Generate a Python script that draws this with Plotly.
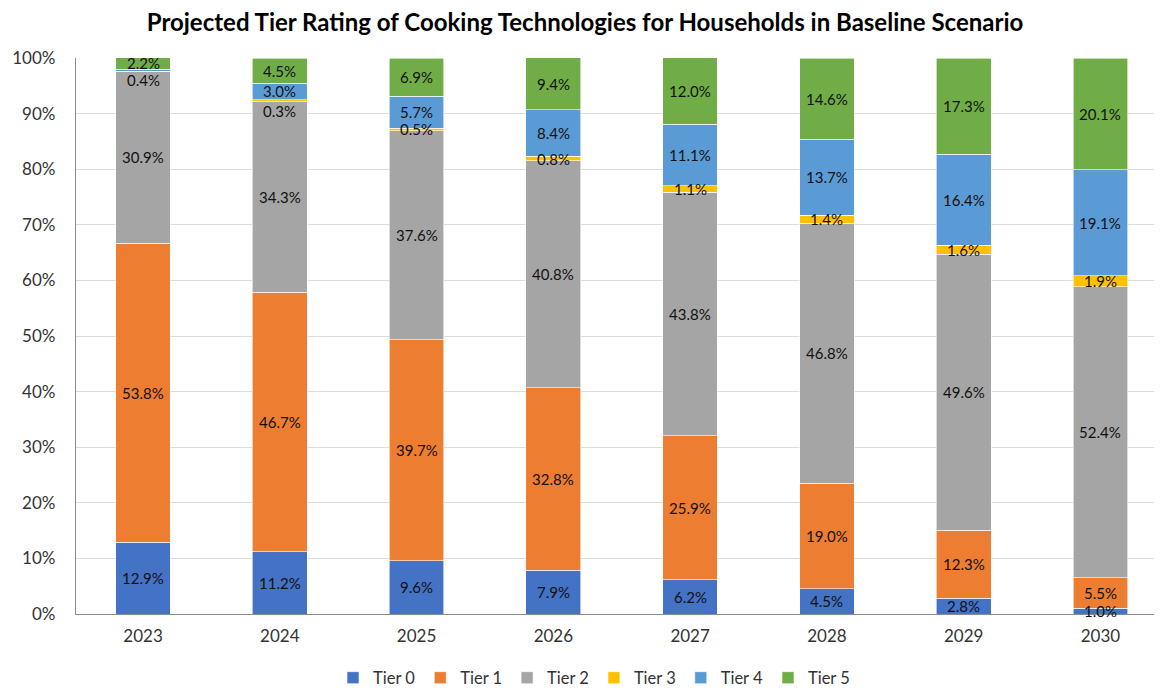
import plotly.graph_objects as go

years = ["2023", "2024", "2025", "2026", "2027", "2028", "2029", "2030"]
tier_names = ["Tier 0", "Tier 1", "Tier 2", "Tier 3", "Tier 4", "Tier 5"]
tier0 = [12.9, 11.2, 9.6, 7.9, 6.2, 4.5, 2.8, 1.0]
tier1 = [53.8, 46.7, 39.7, 32.8, 25.9, 19.0, 12.3, 5.5]
tier2 = [30.9, 34.3, 37.6, 40.8, 43.8, 46.8, 49.6, 52.4]
tier3 = [0.0, 0.3, 0.5, 0.8, 1.1, 1.4, 1.6, 1.9]
tier4 = [0.4, 3.0, 5.7, 8.4, 11.1, 13.7, 16.4, 19.1]
tier5 = [2.2, 4.5, 6.9, 9.4, 12.0, 14.6, 17.3, 20.1]
colors = ["#4472C4", "#ED7D31", "#A5A5A5", "#FFC000", "#5B9BD5", "#70AD47"]

series = [tier0, tier1, tier2, tier3, tier4, tier5]
FONT = "Lato"

fig = go.Figure()
for name, vals, col in zip(tier_names, series, colors):
    fig.add_trace(go.Bar(
        x=years, y=[v / 100 for v in vals], name=name,
        marker=dict(color=col, line=dict(color="white", width=0.6)),
        hoverinfo="skip",
    ))

# data labels at segment centers; a label crowded by the one above is nudged down
annotations = []
for i, yr in enumerate(years):
    base = 0.0
    centers = []
    for vals in series:
        v = vals[i]
        if v > 0:
            centers.append((base + v / 2, v))
        base += v
    for k, (c, v) in enumerate(centers):
        shift = 0
        if k + 1 < len(centers) and centers[k + 1][0] - c < 1.7:
            shift = -10
        annotations.append(dict(
            x=i, y=c / 100, xref="x", yref="y", text=f"{v:.1f}%",
            showarrow=False, yshift=shift,
            font=dict(family=FONT, size=15, color="#111111"),
        ))

fig.update_layout(
    annotations=annotations,
    barmode="stack",
    bargap=0.6,
    width=1154, height=683,
    paper_bgcolor="white", plot_bgcolor="white",
    margin=dict(l=68, r=0, t=50, b=77, autoexpand=False),
    title=dict(
        text="<b>Projected Tier Rating of Cooking Technologies for Households in Baseline Scenario</b>",
        x=0.5, xanchor="center", y=0.978, yanchor="middle",
        font=dict(family=FONT, size=24, color="#000000"),
    ),
    font=dict(family=FONT, size=16, color="#333333"),
    legend=dict(
        orientation="h", x=0.477, xanchor="center", y=-0.115, yanchor="middle",
        font=dict(family=FONT, size=16.5, color="#333333"),
        itemwidth=30, traceorder="normal",
    ),
    xaxis=dict(
        type="category", range=[-0.49, 7.45],
        showline=True, linecolor="#8c8c8c", linewidth=1.3,
        ticks="", tickfont=dict(family=FONT, size=17, color="#333333"),
        showgrid=False, ticklabelstandoff=6,
    ),
    yaxis=dict(
        range=[0, 1], tickformat=".0%", dtick=0.1,
        showline=True, linecolor="#8c8c8c", linewidth=1.3,
        gridcolor="#dcdcdc", gridwidth=1,
        tickfont=dict(family=FONT, size=17, color="#333333"),
        ticks="", ticklabelstandoff=16, zeroline=False,
    ),
)

fig.write_html("out.html")
